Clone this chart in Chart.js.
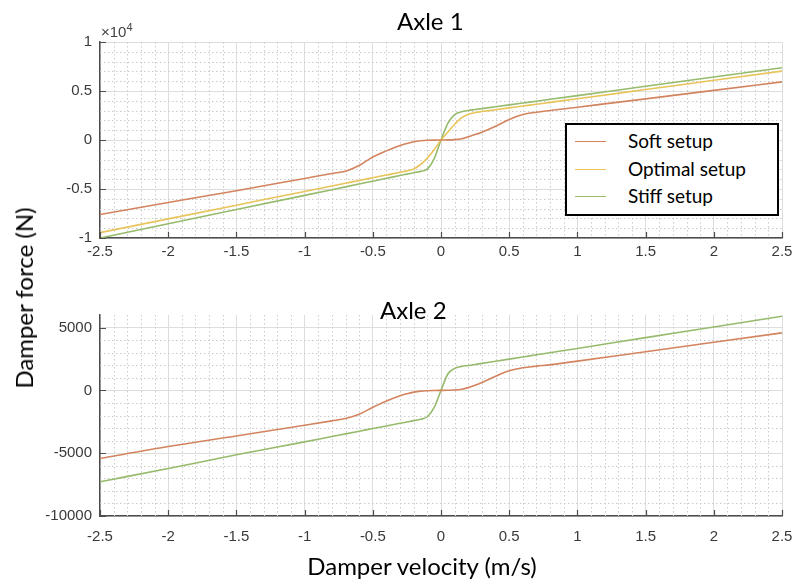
<!DOCTYPE html>
<html><head><meta charset="utf-8">
<script src="https://cdn.jsdelivr.net/npm/chart.js@4.4.0/dist/chart.umd.min.js"></script>
<style>
html,body{margin:0;padding:0;background:#fff;}
#wrap{position:relative;width:795px;height:583px;overflow:hidden;font-family:Lato,'Open Sans',sans-serif;}
canvas{position:absolute;left:0;}
.t{position:absolute;white-space:nowrap;color:#000;line-height:1;}
#legend{position:absolute;left:565px;top:123px;width:210px;height:89px;border:2px solid #000;background:#fff;box-sizing:content-box;}
.lg{position:absolute;left:0;height:26px;width:210px;}
.lg i{position:absolute;left:8px;top:13px;width:31px;height:0;border-top:1.6px solid;}
.lg span{position:absolute;left:61px;top:2px;font-size:19px;line-height:22px;color:#000;}
</style></head><body>
<div id="wrap">
<canvas id="c1" width="795" height="290" style="top:0"></canvas>
<canvas id="c2" width="795" height="293" style="top:290px"></canvas>
<div class="t" style="left:397px;top:9px;font-size:24px;">Axle 1</div>
<div class="t" style="left:380px;top:298px;font-size:24px;">Axle 2</div>
<div class="t" style="left:101px;top:24px;font-family:'Liberation Sans',Arial,sans-serif;font-size:15px;color:#444;">×10<span style="font-size:11px;position:relative;top:-6px;">4</span></div>
<div class="t" id="ytitle" style="left:24px;top:298px;font-size:24px;transform:translate(-50%,-50%) rotate(-90deg);">Damper force (N)</div>
<div class="t" style="left:422px;top:554px;font-size:24px;transform:translateX(-50%);">Damper velocity (m/s)</div>
<div id="legend"></div>
</div>
<script>
// ---- data ----
const velocity = [-2.5,-2,-1.5,-1,-0.8,-0.7,-0.6,-0.5,-0.4,-0.3,-0.25,-0.2,-0.15,-0.1,-0.05,0,0.05,0.1,0.15,0.2,0.25,0.3,0.4,0.5,0.6,0.7,0.8,1,1.5,2,2.5];
const axle1Soft    = [-7600,-6380,-5170,-3920,-3420,-3180,-2600,-1740,-1110,-560,-350,-180,-80,-30,-10,0,10,40,120,330,550,800,1400,2100,2600,2840,3010,3350,4200,5060,5930];
const axle1Optimal = [-9450,-8050,-6650,-5250,-4700,-4420,-4130,-3850,-3570,-3300,-3150,-2950,-2500,-1850,-1000,0,800,1600,2250,2620,2800,2900,3090,3280,3470,3650,3840,4210,5150,6090,7030];
const axle1Stiff   = [-10000,-8550,-7100,-5650,-5070,-4780,-4490,-4200,-3910,-3620,-3480,-3340,-3200,-2950,-1900,0,1700,2600,2880,3010,3105,3200,3390,3580,3770,3960,4150,4530,5480,6430,7380];
const axle2Soft    = [-5420,-4470,-3630,-2780,-2430,-2240,-1900,-1350,-850,-430,-270,-140,-60,-25,-10,0,10,30,90,220,400,620,1130,1560,1800,1930,2030,2330,3080,3830,4580];
const axle2Stiff   = [-7280,-6220,-5130,-4100,-3670,-3460,-3250,-3040,-2830,-2620,-2520,-2410,-2300,-2100,-1350,0,1300,1750,1900,1980,2060,2150,2320,2490,2660,2830,3000,3340,4200,5050,5900];
const seriesNames = ['Soft setup','Optimal setup','Stiff setup'];
const xTicks      = [-2.5,-2,-1.5,-1,-0.5,0,0.5,1,1.5,2,2.5];
const axle1YTicks = [-10000,-5000,0,5000,10000];
const axle2YTicks = [-10000,-5000,0,5000];
const axle2YMax   = 6000;

const colors = {'Soft setup':'#d3845f','Optimal setup':'#e8c45a','Stiff setup':'#96bb6c'};

function pts(ys){ return velocity.map((v,i)=>({x:v,y:ys[i]})); }
function ds(name, ys){
  return {label:name, data:pts(ys), borderColor:colors[name], backgroundColor:colors[name],
    borderWidth:1.6, pointRadius:0, showLine:true, fill:false, cubicInterpolationMode:'monotone'};
}

const matlabGrid = {
  id:'matlabGrid',
  beforeDatasetsDraw(chart, args, o){
    const {ctx, chartArea:a, scales:{x,y}} = chart;
    ctx.save();
    ctx.strokeStyle = '#cbcbcb'; ctx.lineWidth = 1; ctx.setLineDash([1.5,2.5]);
    ctx.beginPath();
    const nx = Math.round((x.max-x.min)/o.xMinor);
    for(let i=1;i<nx;i++){
      const v = x.min + i*o.xMinor;
      if (Math.abs(v/o.xMajor - Math.round(v/o.xMajor))<1e-6) continue;
      const p = Math.round(x.getPixelForValue(v))+0.5;
      ctx.moveTo(p,a.top); ctx.lineTo(p,a.bottom);
    }
    const ny = Math.round((y.max-y.min)/o.yMinor);
    for(let i=1;i<ny;i++){
      const v = y.min + i*o.yMinor;
      if (Math.abs(v/o.yMajor - Math.round(v/o.yMajor))<1e-6) continue;
      const p = Math.round(y.getPixelForValue(v))+0.5;
      ctx.moveTo(a.left,p); ctx.lineTo(a.right,p);
    }
    ctx.stroke();
    ctx.restore();
  },
  afterDatasetsDraw(chart){
    const {ctx, chartArea:a, scales:{x,y}} = chart;
    ctx.save();
    ctx.strokeStyle = '#4d4d4d'; ctx.lineWidth = 1.2;
    ctx.beginPath();
    x.ticks.forEach(t=>{ const p=Math.round(x.getPixelForValue(t.value))+0.5; ctx.moveTo(p,a.bottom); ctx.lineTo(p,a.bottom-6); });
    y.ticks.forEach(t=>{ const p=Math.round(y.getPixelForValue(t.value))+0.5; ctx.moveTo(a.left,p); ctx.lineTo(a.left+6,p); });
    ctx.stroke();
    ctx.restore();
  }
};

const tickFont = {family:"'Liberation Sans', Arial, sans-serif", size:15};
function makeChart(id, datasets, yTicks, yMax, yFmt, pad, xH, xPad){
  return new Chart(document.getElementById(id), {
    type:'scatter',
    data:{datasets},
    options:{
      responsive:false, maintainAspectRatio:false, animation:false, events:[],
      layout:{padding:pad, autoPadding:false},
      plugins:{legend:{display:false}, tooltip:{enabled:false}, title:{display:false}, matlabGrid:{xMinor:0.1,xMajor:0.5,yMinor:1000,yMajor:5000}},
      scales:{
        x:{type:'linear', min:xTicks[0], max:xTicks[xTicks.length-1],
           afterBuildTicks:s=>{ s.ticks = xTicks.map(v=>({value:v})); },
           ticks:{color:'#3a3a3a', font:tickFont, padding:xPad, maxRotation:0, autoSkip:false,
                  callback:v=>String(v)},
           grid:{color:'#dedede', lineWidth:1, drawTicks:false},
           border:{color:'#4d4d4d', width:1.5},
           afterFit:s=>{s.height=xH; s.paddingLeft=0; s.paddingRight=0;}},
        y:{type:'linear', min:yTicks[0], max:yMax,
           afterBuildTicks:s=>{ s.ticks = yTicks.map(v=>({value:v})); },
           ticks:{color:'#3a3a3a', font:tickFont, padding:8, autoSkip:false, callback:yFmt},
           grid:{color:'#dedede', lineWidth:1, drawTicks:false},
           border:{color:'#4d4d4d', width:1.5},
           afterFit:s=>{s.width=100; s.paddingTop=0; s.paddingBottom=0;}}
      }
    },
    plugins:[matlabGrid]
  });
}

makeChart('c1', [ds(seriesNames[0],axle1Soft), ds(seriesNames[1],axle1Optimal), ds(seriesNames[2],axle1Stiff)],
  axle1YTicks, axle1YTicks[axle1YTicks.length-1], v=>String(v/10000), {left:0,right:13,top:42,bottom:0}, 52, 5);
makeChart('c2', [ds(seriesNames[0],axle2Soft), ds(seriesNames[2],axle2Stiff)],
  axle2YTicks, axle2YMax, v=>String(v), {left:0,right:13,top:25,bottom:0}, 67, 12);

// legend (HTML, built from series names/colours)
const lg = document.getElementById('legend');
seriesNames.forEach((n,i)=>{
  const row = document.createElement('div');
  row.className='lg'; row.style.top = (3 + i*27.5)+'px';
  row.innerHTML = '<i style="border-color:'+colors[n]+'"></i><span>'+n+'</span>';
  lg.appendChild(row);
});
</script>
</body></html>
